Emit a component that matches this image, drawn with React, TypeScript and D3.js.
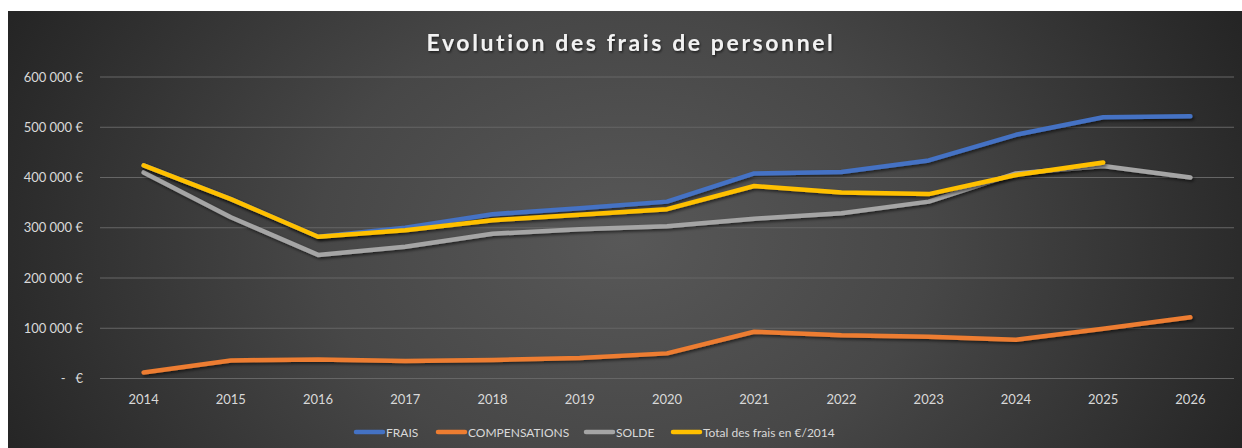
import React from "react";
import * as d3 from "d3";

const years = ["2014","2015","2016","2017","2018","2019","2020","2021","2022","2023","2024","2025","2026"];
const frais = [424000, 357000, 282000, 300000, 327000, 339000, 352000, 408000, 411000, 434000, 485000, 520000, 522000];
const compensations = [12000, 36000, 38000, 35000, 37000, 41000, 50000, 93000, 86000, 83000, 77000, 99000, 122000];
const solde = [410000, 321000, 246000, 262000, 288000, 297000, 303000, 318000, 329000, 352000, 408000, 423000, 400000];
const totalEuro2014 = [424000, 357000, 282000, 295000, 315000, 326000, 337000, 383000, 370000, 367000, 405000, 430000, null];
const yTicks = [0, 100000, 200000, 300000, 400000, 500000, 600000];

const seriesNames = ["FRAIS", "COMPENSATIONS", "SOLDE", "Total des frais en €/2014"];
const seriesColors = ["#4472C4", "#ED7D31", "#A5A5A5", "#FFC000"];

const W = 1242, H = 448;
const fontFam = "Lato, 'Open Sans', sans-serif";

function fmt(v: number): string {
  if (v === 0) return "-   €";
  return d3.format(",")(v).replace(/,/g, "\u202F") + " €";
}

export default function App() {
  const x = d3.scaleBand<string>().domain(years).range([100, 1234]).padding(0);
  const cx = (yr: string) => (x(yr) as number) + x.bandwidth() / 2;
  const y = d3.scaleLinear().domain([0, 600000]).range([378.5, 77]);
  const line = d3.line<number | null>()
    .defined((d) => d !== null)
    .x((_, i) => cx(years[i]))
    .y((d) => y(d as number));
  const allSeries = [frais, compensations, solde, totalEuro2014];

  const legendX = [354, 436, 584, 671];

  return (
    <svg width={W} height={H} style={{ position: "absolute", left: 0, top: 0 }}>
      <defs>
        <radialGradient id="bg" gradientUnits="userSpaceOnUse" cx={625} cy={240} r={680} gradientTransform="translate(625 240) scale(1 0.75) translate(-625 -240)">
          <stop offset="0" stopColor="#585858" />
          <stop offset="0.45" stopColor="#474747" />
          <stop offset="1" stopColor="#252525" />
        </radialGradient>
        <filter id="sh" x="-5%" y="-20%" width="110%" height="140%">
          <feDropShadow dx="1.5" dy="2" stdDeviation="1.5" floodColor="#000" floodOpacity="0.55" />
        </filter>
        <filter id="tsh" x="-5%" y="-30%" width="110%" height="160%">
          <feDropShadow dx="1" dy="1.5" stdDeviation="1" floodColor="#000" floodOpacity="0.6" />
        </filter>
      </defs>
      <rect x={8} y={11} width={W - 8} height={H - 11} fill="url(#bg)" />
      <text x={631} y={51} textAnchor="middle" fill="#f2f2f2" fontFamily={fontFam} fontWeight={700} fontSize={23} letterSpacing={2.6} filter="url(#tsh)">
        Evolution des frais de personnel
      </text>
      {yTicks.map((t) => (
        <g key={t}>
          <line x1={100} x2={1234} y1={y(t)} y2={y(t)} stroke="#666" strokeWidth={1} />
          <text x={83} y={y(t) + 4.5} textAnchor="end" fill="#d9d9d9" fontFamily={fontFam} fontSize={13} style={{ whiteSpace: "pre" }}>
            {fmt(t)}
          </text>
        </g>
      ))}
      {years.map((yr) => (
        <text key={yr} x={cx(yr)} y={403.5} textAnchor="middle" fill="#d9d9d9" fontFamily={fontFam} fontSize={13}>
          {yr}
        </text>
      ))}
      {allSeries.map((s, i) => (
        <path key={i} d={line(s) || ""} fill="none" stroke={seriesColors[i]} strokeWidth={4.5} strokeLinecap="round" strokeLinejoin="round" filter="url(#sh)" />
      ))}
      {seriesNames.map((n, i) => (
        <g key={n}>
          <line x1={legendX[i] + 2} x2={legendX[i] + 29} y1={432} y2={432} stroke={seriesColors[i]} strokeWidth={4.5} strokeLinecap="round" />
          <text x={legendX[i] + 32} y={436.5} fill="#d9d9d9" fontFamily={fontFam} fontSize={12}>
            {n}
          </text>
        </g>
      ))}
    </svg>
  );
}
